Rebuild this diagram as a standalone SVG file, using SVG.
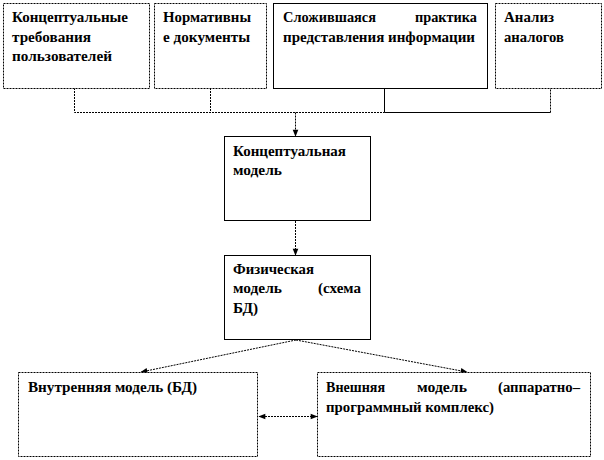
<svg xmlns="http://www.w3.org/2000/svg" width="604" height="460" viewBox="0 0 604 460">
<style>
.box{fill:#fff;stroke:#000;stroke-width:1}
.dot{stroke-dasharray:2 1}
.t{font-family:'Liberation Serif','Times New Roman',serif;font-weight:bold;font-size:15px;fill:#000}
.c{fill:none;stroke:#000;stroke-width:1}
.d{stroke-dasharray:2 1}
</style>
<defs>
<marker id="ah" viewBox="0 0 10 10" refX="9" refY="5" markerWidth="8" markerHeight="7" orient="auto-start-reverse" markerUnits="userSpaceOnUse">
<path d="M0,1 L10,5 L0,9 Z" fill="#000"/>
</marker>
</defs>
<rect width="604" height="460" fill="#fff"/>
<g id="connectors">
<path class="c d" d="M74.5,88 V112.5 H384.5"/>
<path class="c" d="M384.5,112.5 H550.5"/>
<path class="c d" d="M550.5,112.5 V88"/>
<path class="c d" d="M210.5,88 V112.5"/>
<path class="c" d="M384.5,88 V112.5"/>
<path class="c d" d="M295.5,112.5 V136" marker-end="url(#ah)"/>
<path class="c d" d="M295.5,221 V255" marker-end="url(#ah)"/>
<path class="c d" d="M296,340 L141,372" marker-end="url(#ah)"/>
<path class="c d" d="M296,340 L467,372" marker-end="url(#ah)"/>
<path class="c d" d="M259,416.5 H317" marker-start="url(#ah)" marker-end="url(#ah)"/>
</g>
<g id="n1">
<rect class="box dot" x="3.5" y="3.5" width="146" height="85"/>
<text class="t"><tspan x="12" y="22" textLength="116" lengthAdjust="spacingAndGlyphs">Концептуальные</tspan><tspan x="12" y="42" textLength="79" lengthAdjust="spacingAndGlyphs">требования</tspan><tspan x="12" y="61" textLength="100" lengthAdjust="spacingAndGlyphs">пользователей</tspan></text>
</g>
<g id="n2">
<rect class="box dot" x="154.5" y="3.5" width="112" height="85"/>
<text class="t"><tspan x="163" y="22" textLength="88" lengthAdjust="spacingAndGlyphs">Нормативны</tspan><tspan x="163" y="42" textLength="87" lengthAdjust="spacingAndGlyphs">е документы</tspan></text>
</g>
<g id="n3">
<rect class="box" x="273.5" y="3.5" width="214" height="85"/>
<text class="t"><tspan x="283" y="22" textLength="93" lengthAdjust="spacingAndGlyphs">Сложившаяся</tspan><tspan x="415" y="22" textLength="62" lengthAdjust="spacingAndGlyphs">практика</tspan><tspan x="283" y="42" textLength="192" lengthAdjust="spacingAndGlyphs">представления информации</tspan></text>
</g>
<g id="n4">
<rect class="box dot" x="495.5" y="3.5" width="106" height="85"/>
<text class="t"><tspan x="504" y="22" textLength="50" lengthAdjust="spacingAndGlyphs">Анализ</tspan><tspan x="504" y="42" textLength="60" lengthAdjust="spacingAndGlyphs">аналогов</tspan></text>
</g>
<g id="n5">
<rect class="box" x="224.5" y="136.5" width="146" height="84"/>
<text class="t"><tspan x="233" y="156" textLength="113" lengthAdjust="spacingAndGlyphs">Концептуальная</tspan><tspan x="233" y="175" textLength="49" lengthAdjust="spacingAndGlyphs">модель</tspan></text>
</g>
<g id="n6">
<rect class="box" x="224.5" y="255.5" width="146" height="84"/>
<text class="t"><tspan x="233" y="274" textLength="81" lengthAdjust="spacingAndGlyphs">Физическая</tspan><tspan x="233" y="293" textLength="49" lengthAdjust="spacingAndGlyphs">модель</tspan><tspan x="318" y="293" textLength="43" lengthAdjust="spacingAndGlyphs">(схема</tspan><tspan x="233" y="313" textLength="25" lengthAdjust="spacingAndGlyphs">БД)</tspan></text>
</g>
<g id="n7">
<rect class="box dot" x="18.5" y="372.5" width="239" height="84"/>
<text class="t"><tspan x="28" y="392" textLength="169" lengthAdjust="spacingAndGlyphs">Внутренняя модель (БД)</tspan></text>
</g>
<g id="n8">
<rect class="box dot" x="317.5" y="372.5" width="273" height="84"/>
<text class="t"><tspan x="326" y="392" textLength="59" lengthAdjust="spacingAndGlyphs">Внешняя</tspan><tspan x="417" y="392" textLength="50" lengthAdjust="spacingAndGlyphs">модель</tspan><tspan x="498" y="392" textLength="82" lengthAdjust="spacingAndGlyphs">(аппаратно–</tspan><tspan x="326" y="412" textLength="168" lengthAdjust="spacingAndGlyphs">программный комплекс)</tspan></text>
</g>
</svg>
